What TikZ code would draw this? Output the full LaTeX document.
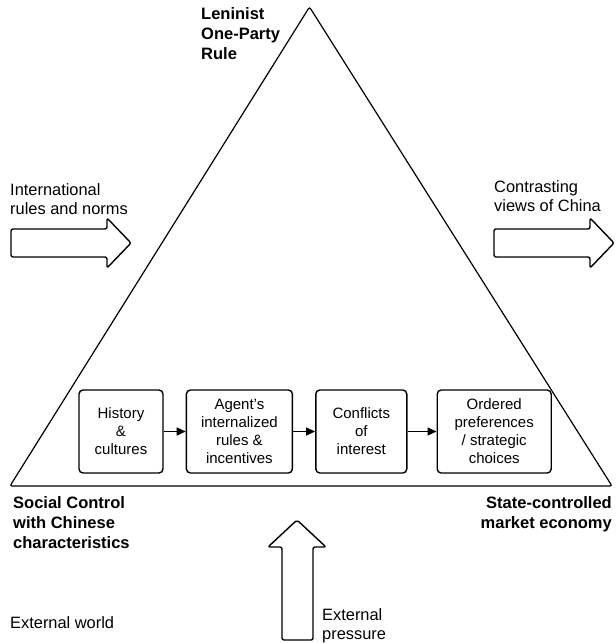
\documentclass[tikz,border=0pt]{standalone}
\usepackage{fontspec}
\setmainfont{Liberation Sans}
\usetikzlibrary{arrows.meta}
\usetikzlibrary{positioning}

\begin{document}
\begin{tikzpicture}[
    x=1pt, y=-1pt,
    node distance=22pt,
    stageBox/.style={
        rectangle, draw, rounded corners=4pt,
        line width=1.4pt,
        minimum height=83pt,
        font=\fontsize{15}{18}\selectfont,
        align=center
    },
    cornerLabel/.style={inner sep=0pt, align=left, font=\fontsize{16.5}{20}\selectfont\bfseries},
    sideLabel/.style={inner sep=0pt, align=left, font=\fontsize{16.4}{19.5}\selectfont},
    blockArrow/.style={draw, line width=1.4pt, rounded corners=2pt, line join=round},
    stageArrow/.style={-{Triangle[length=9pt,width=8pt]}, line width=1.4pt}
]
\useasboundingbox (0,0) rectangle (616,643);

% the triangle
\coordinate (apex) at (309.5,7);
\coordinate (baseL) at (10,486);
\coordinate (baseR) at (612,486);
\draw[line width=1.2pt, rounded corners=2pt] (apex) -- (baseR) -- (baseL) -- cycle;

% corner labels
\node[cornerLabel, anchor=north west] (leninist) at (201,7) {Leninist\\One-Party\\Rule};
\node[cornerLabel, anchor=north west] (social) at (13,496) {Social Control\\with Chinese\\characteristics};
\node[cornerLabel, anchor=north east, align=right] (market) at (612,496) {State-controlled\\market economy};

% stages inside the triangle
\node[stageBox, minimum width=84pt] (history) at (121,431.5) {History\\\&\\cultures};
\node[stageBox, minimum width=106pt, right=of history] (agent) {Agent's\\internalized\\rules \&\\incentives};
\node[stageBox, minimum width=91pt, right=of agent] (conflicts) {Conflicts\\of\\interest};
\node[stageBox, minimum width=114pt, right=29pt of conflicts] (ordered) {Ordered\\preferences\\/ strategic\\choices};
\draw[stageArrow] (history) -- (agent);
\draw[stageArrow] (agent) -- (conflicts);
\draw[stageArrow] (conflicts) -- (ordered);

% outside influences
\node[sideLabel, anchor=north west] (intl) at (10,183) {International\\rules and norms};
\draw[blockArrow] (11,229) -- (107,229) -- (107,218) -- (131,243) -- (107,268) -- (107,257) -- (11,257) -- cycle;

\node[sideLabel, anchor=north west] (views) at (494,180) {Contrasting\\views of China};
\draw[blockArrow] (494,229) -- (590,229) -- (590,218) -- (614,243) -- (590,268) -- (590,257) -- (494,257) -- cycle;

\draw[blockArrow] (282,640) -- (282,547) -- (268,547) -- (297,520) -- (326,547) -- (313,547) -- (313,640) -- cycle;
\node[sideLabel, anchor=north west] (pressure) at (322,608) {External\\pressure};

\node[sideLabel, anchor=base west] (world) at (10,628) {External world};
\end{tikzpicture}
\end{document}
